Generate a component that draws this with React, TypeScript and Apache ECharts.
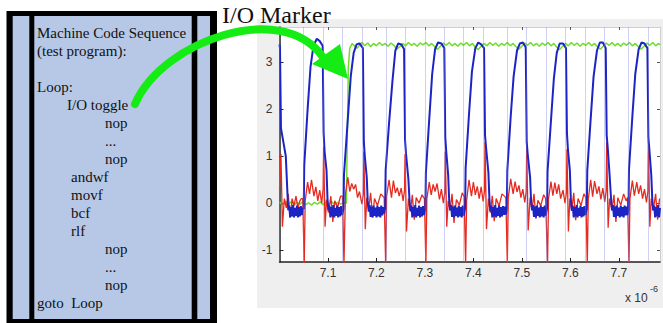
import React, { useEffect, useRef } from "react";
import * as echarts from "echarts";

// ---------- text content ----------
const codeLines: string[] = [
  "Machine Code Sequence",
  "(test program):",
  "",
  "Loop:",
  "I/O toggle",
  "nop",
  "...",
  "nop",
  "andwf",
  "movf",
  "bcf",
  "rlf",
  "nop",
  "...",
  "nop",
  "goto  Loop",
];
const markerTitle = "I/O Marker";
const xScaleBase = "x 10";
const xScaleExp = "-6";

// ---------- axes ----------
const xMin = 7.0;
const xMax = 7.785;
const yMin = -1.25;
const yMax = 3.75;
const xTickValues = [7.1, 7.2, 7.3, 7.4, 7.5, 7.6, 7.7];
const yTickValues = [-1, 0, 1, 2, 3];

// ---------- traces (time in 1e-6 s, volts) ----------
const blueTrace: [number, number][] = [
  [7.000, 3.38], [7.001, 3.3], [7.003, 1.6], [7.008, 1.3], [7.013, 1.0], [7.016, 0.3], [7.018, -0.15],
  [7.020, -0.05], [7.022, -0.3], [7.024, -0.08], [7.026, -0.28], [7.028, -0.04], [7.030, -0.3], [7.032, -0.1],
  [7.034, -0.27], [7.036, -0.05], [7.038, -0.3], [7.040, -0.08], [7.042, -0.28], [7.044, -0.06], [7.046, -0.25], [7.048, -0.1],
  // pulse 1
  [7.050, -0.12], [7.051, 0.8], [7.058, 2.0], [7.064, 2.9], [7.070, 3.35], [7.077, 3.5], [7.083, 3.45], [7.089, 3.35],
  [7.091, 1.5], [7.093, 1.1], [7.097, 0.7], [7.099, 0.1], [7.101, -0.15],
  [7.103, -0.05], [7.105, -0.3], [7.107, -0.08], [7.109, -0.28], [7.111, -0.04], [7.113, -0.3], [7.115, -0.1],
  [7.117, -0.27], [7.119, -0.05], [7.121, -0.3], [7.123, -0.08], [7.125, -0.28], [7.127, -0.06], [7.129, -0.25],
  // pulse 2
  [7.132, -0.12], [7.133, 0.6], [7.141, 1.8], [7.147, 2.7], [7.153, 3.2], [7.159, 3.38], [7.165, 3.4], [7.172, 3.3],
  [7.174, 1.3], [7.176, 1.0], [7.180, 0.55], [7.182, 0.05], [7.184, -0.18],
  [7.186, -0.04], [7.188, -0.29], [7.190, -0.07], [7.192, -0.3], [7.194, -0.05], [7.196, -0.27], [7.198, -0.09],
  [7.200, -0.3], [7.202, -0.05], [7.204, -0.28], [7.206, -0.08], [7.208, -0.3], [7.210, -0.05], [7.212, -0.26],
  [7.214, -0.08], [7.216, -0.22],
  // pulse 3
  [7.218, -0.1], [7.219, 0.7], [7.226, 1.7], [7.233, 2.6], [7.239, 3.25], [7.245, 3.4], [7.251, 3.38], [7.257, 3.28],
  [7.259, 1.35], [7.261, 1.05], [7.266, 0.5], [7.268, 0.1], [7.270, -0.16],
  [7.272, -0.05], [7.274, -0.3], [7.276, -0.08], [7.278, -0.28], [7.280, -0.04], [7.282, -0.3], [7.284, -0.1],
  [7.286, -0.27], [7.288, -0.05], [7.290, -0.3], [7.292, -0.08], [7.294, -0.28], [7.296, -0.06], [7.298, -0.25],
  // pulse 4
  [7.301, -0.12], [7.302, 0.65], [7.309, 1.8], [7.315, 2.75], [7.321, 3.28], [7.327, 3.42], [7.334, 3.4], [7.340, 3.3],
  [7.342, 1.4], [7.344, 1.1], [7.348, 0.6], [7.350, 0.08], [7.352, -0.15],
  [7.354, -0.04], [7.356, -0.29], [7.358, -0.07], [7.360, -0.3], [7.362, -0.05], [7.364, -0.27], [7.366, -0.09],
  [7.368, -0.3], [7.370, -0.05], [7.372, -0.28], [7.374, -0.08], [7.376, -0.3], [7.378, -0.05], [7.380, -0.26],
  // pulse 5
  [7.383, -0.1], [7.384, 0.75], [7.391, 1.9], [7.397, 2.8], [7.404, 3.3], [7.410, 3.42], [7.416, 3.38], [7.422, 3.3],
  [7.424, 1.45], [7.426, 1.2], [7.431, 0.65], [7.433, 0.1], [7.435, -0.17],
  [7.437, -0.05], [7.439, -0.3], [7.441, -0.08], [7.443, -0.28], [7.445, -0.04], [7.447, -0.3], [7.449, -0.1],
  [7.451, -0.27], [7.453, -0.05], [7.455, -0.3], [7.457, -0.08], [7.459, -0.28], [7.461, -0.06], [7.463, -0.25],
  [7.465, -0.07], [7.467, -0.24],
  // pulse 6
  [7.469, -0.12], [7.470, 0.7], [7.477, 1.85], [7.483, 2.7], [7.490, 3.25], [7.496, 3.4], [7.502, 3.42], [7.508, 3.32],
  [7.510, 1.3], [7.512, 1.05], [7.517, 0.55], [7.519, 0.06], [7.521, -0.15],
  [7.523, -0.04], [7.525, -0.29], [7.527, -0.07], [7.529, -0.3], [7.531, -0.05], [7.533, -0.27], [7.535, -0.09],
  [7.537, -0.3], [7.539, -0.05], [7.541, -0.28], [7.543, -0.08], [7.545, -0.3], [7.547, -0.05], [7.549, -0.26],
  // pulse 7
  [7.552, -0.11], [7.553, 0.68], [7.560, 1.75], [7.566, 2.65], [7.572, 3.2], [7.578, 3.4], [7.585, 3.4], [7.591, 3.3],
  [7.593, 1.5], [7.595, 1.15], [7.599, 0.7], [7.601, 0.1], [7.603, -0.16],
  [7.605, -0.05], [7.607, -0.3], [7.609, -0.08], [7.611, -0.28], [7.613, -0.04], [7.615, -0.3], [7.617, -0.1],
  [7.619, -0.27], [7.621, -0.05], [7.623, -0.3], [7.625, -0.08], [7.627, -0.28], [7.629, -0.06], [7.631, -0.25],
  // pulse 8
  [7.634, -0.12], [7.635, 0.7], [7.642, 1.8], [7.648, 2.7], [7.655, 3.25], [7.661, 3.42], [7.667, 3.42], [7.673, 3.3],
  [7.675, 1.45], [7.677, 1.2], [7.681, 0.6], [7.684, 0.1], [7.686, -0.15],
  [7.688, -0.04], [7.690, -0.29], [7.692, -0.07], [7.694, -0.3], [7.696, -0.05], [7.698, -0.27], [7.700, -0.09],
  [7.702, -0.3], [7.704, -0.05], [7.706, -0.28], [7.708, -0.08], [7.710, -0.3], [7.712, -0.05], [7.714, -0.26],
  [7.716, -0.07], [7.718, -0.25],
  // pulse 9
  [7.720, -0.12], [7.721, 0.72], [7.728, 1.85], [7.734, 2.75], [7.741, 3.28], [7.747, 3.42], [7.753, 3.4], [7.759, 3.3],
  [7.761, 1.4], [7.763, 1.15], [7.767, 0.6], [7.769, 0.1], [7.771, -0.15],
  [7.773, -0.05], [7.775, -0.3], [7.777, -0.08], [7.779, -0.28], [7.781, -0.04], [7.783, -0.3], [7.785, -0.1],
];

const redTrace: [number, number][] = [
  [7.000, 0.3], [7.003, 1.05], [7.006, -0.5], [7.010, 0.1], [7.014, -0.1], [7.018, 0.2], [7.022, -0.3], [7.026, 0.1],
  [7.030, -0.05], [7.034, 0.15], [7.038, -0.1], [7.042, 0.05], [7.045, 0.1],
  // pulse 1
  [7.048, 0.1], [7.051, -1.3], [7.053, 0.05], [7.058, 0.45], [7.062, 0.2], [7.066, 0.5], [7.071, 0.15], [7.075, 0.35],
  [7.079, 0.05], [7.083, 0.28], [7.087, 0.0], [7.090, 0.3], [7.091, 1.2], [7.094, -0.5], [7.097, 0.08], [7.101, -0.2],
  [7.106, 0.15], [7.110, -0.4], [7.114, 0.05], [7.120, -0.08], [7.126, 0.15],
  // pulse 2
  [7.130, 0.15], [7.133, -1.3], [7.136, 0.2], [7.141, 0.55], [7.145, 0.25], [7.149, 0.42], [7.153, 0.3], [7.157, 0.4],
  [7.161, 0.12], [7.165, 0.25], [7.170, -0.02], [7.173, 0.2], [7.174, 1.1], [7.177, -0.55], [7.180, 0.12], [7.184, -0.12],
  [7.188, 0.22], [7.192, -0.3], [7.196, 0.1], [7.202, -0.05], [7.209, 0.2],
  // pulse 3
  [7.216, 0.12], [7.219, -1.3], [7.221, 0.15], [7.226, 0.5], [7.231, 0.12], [7.235, 0.48], [7.239, 0.22], [7.243, 0.33],
  [7.247, 0.15], [7.251, 0.32], [7.255, 0.05], [7.258, 0.28], [7.259, 1.05], [7.262, -0.6], [7.266, 0.1], [7.270, -0.18],
  [7.274, 0.18], [7.278, -0.35], [7.282, 0.12], [7.288, 0.0], [7.294, 0.18],
  // pulse 4
  [7.299, 0.1], [7.302, -1.3], [7.304, 0.1], [7.309, 0.45], [7.313, 0.18], [7.317, 0.4], [7.321, 0.25], [7.325, 0.42],
  [7.330, 0.08], [7.334, 0.3], [7.338, 0.0], [7.341, 0.22], [7.342, 1.1], [7.345, -0.5], [7.348, 0.05], [7.352, -0.15],
  [7.356, 0.2], [7.360, -0.42], [7.365, 0.08], [7.371, -0.04], [7.377, 0.22],
  // pulse 5
  [7.381, 0.14], [7.384, -1.3], [7.386, 0.05], [7.391, 0.5], [7.396, 0.15], [7.400, 0.45], [7.404, 0.18], [7.408, 0.36],
  [7.412, 0.1], [7.416, 0.35], [7.420, 0.04], [7.423, 0.26], [7.424, 1.3], [7.427, -0.55], [7.431, 0.1], [7.435, -0.2],
  [7.439, 0.16], [7.443, -0.38], [7.447, 0.1], [7.453, -0.06], [7.459, 0.2],
  // pulse 6
  [7.467, 0.12], [7.470, -1.3], [7.472, 0.12], [7.477, 0.52], [7.482, 0.2], [7.486, 0.46], [7.490, 0.24], [7.494, 0.38],
  [7.498, 0.12], [7.502, 0.3], [7.506, 0.02], [7.509, 0.25], [7.510, 1.2], [7.513, -0.58], [7.517, 0.12], [7.521, -0.14],
  [7.525, 0.2], [7.529, -0.33], [7.533, 0.06], [7.539, -0.05], [7.545, 0.18],
  // pulse 7
  [7.549, 0.1], [7.553, -1.3], [7.555, 0.1], [7.560, 0.46], [7.564, 0.16], [7.568, 0.44], [7.572, 0.2], [7.576, 0.4],
  [7.580, 0.1], [7.585, 0.28], [7.589, 0.0], [7.592, 0.24], [7.593, 1.15], [7.596, -0.6], [7.599, 0.1], [7.603, -0.16],
  [7.607, 0.22], [7.611, -0.36], [7.616, 0.1], [7.622, -0.05], [7.628, 0.2],
  // pulse 8
  [7.632, 0.12], [7.635, -1.3], [7.637, 0.08], [7.642, 0.5], [7.646, 0.14], [7.650, 0.47], [7.655, 0.2], [7.659, 0.36],
  [7.663, 0.08], [7.667, 0.32], [7.671, 0.03], [7.674, 0.27], [7.675, 1.3], [7.678, -0.52], [7.681, 0.1], [7.686, -0.15],
  [7.690, 0.18], [7.694, -0.4], [7.698, 0.12], [7.704, -0.04], [7.710, 0.2], [7.715, 0.05],
  // pulse 9
  [7.718, 0.12], [7.721, -1.3], [7.723, 0.1], [7.728, 0.48], [7.732, 0.16], [7.737, 0.45], [7.741, 0.2], [7.745, 0.38],
  [7.749, 0.1], [7.753, 0.3], [7.757, 0.02], [7.760, 0.25], [7.761, 1.35], [7.764, -0.5], [7.767, 0.1], [7.771, -0.15],
  [7.776, 0.2], [7.780, -0.35], [7.784, 0.1],
];

const greenTrace: [number, number][] = [
  [7.000, 0.02], [7.006, -0.03], [7.012, 0.04], [7.018, -0.02], [7.024, 0.03], [7.030, -0.04], [7.036, 0.02],
  [7.042, -0.02], [7.048, 0.03], [7.054, -0.03], [7.060, 0.01], [7.066, -0.04], [7.072, 0.02], [7.078, -0.02],
  [7.084, 0.03], [7.090, -0.03], [7.096, 0.02], [7.102, -0.02], [7.108, 0.03], [7.114, -0.03], [7.120, 0.02],
  [7.126, -0.02], [7.132, 0.02], [7.138, 0.0], [7.139, 0.0], [7.140, 1.5], [7.142, 2.9], [7.145, 3.3],
  [7.150, 3.40], [7.155, 3.34], [7.160, 3.30], [7.165, 3.36], [7.170, 3.42], [7.176, 3.35], [7.182, 3.41],
  [7.188, 3.33], [7.194, 3.40], [7.200, 3.35], [7.206, 3.42], [7.212, 3.36], [7.218, 3.40], [7.224, 3.34],
  [7.230, 3.41], [7.236, 3.36], [7.242, 3.28], [7.248, 3.33], [7.254, 3.40], [7.260, 3.35], [7.266, 3.42],
  [7.272, 3.36], [7.278, 3.40], [7.284, 3.34], [7.290, 3.41], [7.296, 3.37], [7.302, 3.42], [7.308, 3.35],
  [7.314, 3.40], [7.320, 3.33], [7.326, 3.27], [7.332, 3.34], [7.338, 3.41], [7.344, 3.36], [7.350, 3.42],
  [7.356, 3.35], [7.362, 3.40], [7.368, 3.34], [7.374, 3.41], [7.380, 3.36], [7.386, 3.42], [7.392, 3.35],
  [7.398, 3.40], [7.404, 3.32], [7.410, 3.27], [7.416, 3.34], [7.422, 3.40], [7.428, 3.35], [7.434, 3.42],
  [7.440, 3.36], [7.446, 3.41], [7.452, 3.34], [7.458, 3.40], [7.464, 3.36], [7.470, 3.42], [7.476, 3.35],
  [7.482, 3.40], [7.488, 3.33], [7.494, 3.28], [7.500, 3.34], [7.506, 3.41], [7.512, 3.36], [7.518, 3.42],
  [7.524, 3.35], [7.530, 3.40], [7.536, 3.34], [7.542, 3.41], [7.548, 3.36], [7.554, 3.42], [7.560, 3.35],
  [7.566, 3.40], [7.572, 3.32], [7.578, 3.27], [7.584, 3.34], [7.590, 3.40], [7.596, 3.35], [7.602, 3.42],
  [7.608, 3.36], [7.614, 3.41], [7.620, 3.34], [7.626, 3.40], [7.632, 3.36], [7.638, 3.42], [7.644, 3.35],
  [7.650, 3.40], [7.656, 3.33], [7.662, 3.28], [7.668, 3.34], [7.674, 3.41], [7.680, 3.36], [7.686, 3.42],
  [7.692, 3.35], [7.698, 3.40], [7.704, 3.34], [7.710, 3.41], [7.716, 3.36], [7.722, 3.42], [7.728, 3.35],
  [7.734, 3.40], [7.740, 3.33], [7.746, 3.28], [7.752, 3.34], [7.758, 3.41], [7.764, 3.36], [7.770, 3.42],
  [7.776, 3.35], [7.782, 3.40], [7.785, 3.37],
];

// fast transitions that show up as faint full-height traces
const edgeTimes = [
  7.003, 7.050, 7.091, 7.132, 7.174, 7.218, 7.259, 7.301, 7.342, 7.383,
  7.424, 7.469, 7.510, 7.552, 7.593, 7.634, 7.675, 7.720, 7.761,
];

export default function App() {
  const ref = useRef<HTMLDivElement>(null);

  useEffect(() => {
    if (!ref.current) return;
    const chart = echarts.init(ref.current, null, { renderer: "svg" });

    const serif = '"Liberation Serif", "Times New Roman", serif';
    const sans = '"Liberation Sans", Arial, sans-serif';
    const green = "#14ec14";
    const panelBlue = "#b6c8e6";

    // indentation of code listing lines (layout only)
    const indents = [37, 37, 0, 37, 67, 105, 105, 105, 71, 71, 71, 71, 105, 105, 105, 37];
    const codeTexts: any[] = [];
    codeLines.forEach((t, i) => {
      if (!t) return;
      codeTexts.push({
        type: "text",
        z: 5,
        style: {
          text: t,
          x: indents[i],
          y: 33 + i * 18,
          fill: "#111",
          fontFamily: serif,
          fontSize: 15,
          textVerticalAlign: "middle",
        },
      });
    });

    const graphic: any[] = [
      { type: "rect", z: -10, silent: true, shape: { x: 257, y: 19, width: 406, height: 289 }, style: { fill: "#efefef" } },
      { type: "rect", z: 1, shape: { x: 6.5, y: 11, width: 210.5, height: 312 }, style: { fill: "#000" } },
      { type: "rect", z: 2, shape: { x: 12.7, y: 16, width: 16.6, height: 303 }, style: { fill: panelBlue } },
      { type: "rect", z: 2, shape: { x: 34.3, y: 16, width: 157.4, height: 303 }, style: { fill: panelBlue } },
      { type: "rect", z: 2, shape: { x: 197.3, y: 16, width: 12.7, height: 303 }, style: { fill: panelBlue } },
      ...codeTexts,
      {
        type: "text",
        z: 50,
        style: { text: markerTitle, x: 222, y: 14.5, fill: "#111", fontFamily: serif, fontSize: 24, textVerticalAlign: "middle" },
      },
      {
        type: "bezierCurve",
        z: 100,
        shape: { x1: 135, y1: 104, cpx1: 163, cpy1: 40, cpx2: 282, cpy2: 0, x2: 322, y2: 56 },
        style: { stroke: green, lineWidth: 8, fill: null, lineCap: "round" },
      },
      {
        type: "polygon",
        z: 100,
        shape: { points: [[312, 64], [340, 44], [348, 79]] },
        style: { fill: green },
      },
      { type: "text", z: 50, style: { text: xScaleBase, x: 625, y: 298, fill: "#333", fontFamily: sans, fontSize: 12, textVerticalAlign: "middle" } },
      { type: "text", z: 50, style: { text: xScaleExp, x: 650, y: 289, fill: "#333", fontFamily: sans, fontSize: 9, textVerticalAlign: "middle" } },
    ];

    const option: any = {
      animation: false,
      backgroundColor: "#ffffff",
      grid: {
        left: 279.5,
        top: 27,
        right: 3,
        bottom: 61,
        show: true,
        backgroundColor: "#ffffff",
        borderWidth: 0,
      },
      xAxis: [
        {
          type: "value",
          min: xMin,
          max: xMax,
          position: "bottom",
          axisLine: { show: true, onZero: false, lineStyle: { color: "#222", width: 1.5 } },
          axisTick: { show: true, inside: true, length: 4, customValues: xTickValues, lineStyle: { color: "#222" } },
          axisLabel: {
            show: true,
            customValues: xTickValues,
            formatter: (v: number) => v.toFixed(1),
            color: "#333",
            fontSize: 12,
            fontFamily: sans,
            margin: 5,
          },
          splitLine: { show: false },
        },
        {
          type: "value",
          min: xMin,
          max: xMax,
          position: "top",
          axisLine: { show: true, onZero: false, lineStyle: { color: "#cfcfcf", width: 1 } },
          axisTick: { show: true, inside: true, length: 3, customValues: xTickValues, lineStyle: { color: "#555" } },
          axisLabel: { show: false },
          splitLine: { show: false },
        },
      ],
      yAxis: [
        {
          type: "value",
          min: yMin,
          max: yMax,
          position: "left",
          axisLine: { show: true, onZero: false, lineStyle: { color: "#222", width: 1.5 } },
          axisTick: { show: true, inside: true, length: 4, customValues: yTickValues, lineStyle: { color: "#222" } },
          axisLabel: {
            show: true,
            customValues: yTickValues,
            color: "#333",
            fontSize: 12,
            fontFamily: sans,
            margin: 7,
          },
          splitLine: { show: false },
        },
        {
          type: "value",
          min: yMin,
          max: yMax,
          position: "right",
          axisLine: { show: true, onZero: false, lineStyle: { color: "#cfcfcf", width: 1 } },
          axisTick: { show: true, inside: true, length: 3, customValues: yTickValues, lineStyle: { color: "#555" } },
          axisLabel: { show: false },
          splitLine: { show: false },
        },
      ],
      series: [
        {
          type: "line",
          name: "I/O marker",
          data: greenTrace,
          showSymbol: false,
          symbol: "none",
          lineStyle: { color: "#6ede2a", width: 1.5 },
          z: 2,
          markLine: {
            silent: true,
            symbol: ["none", "none"],
            label: { show: false },
            lineStyle: { color: "rgba(120,120,225,0.35)", width: 1, type: "solid" },
            data: edgeTimes.map((t) => ({ xAxis: t })),
          },
        },
        {
          type: "line",
          name: "current",
          data: redTrace,
          showSymbol: false,
          symbol: "none",
          lineStyle: { color: "#e52a1f", width: 1.3 },
          z: 3,
        },
        {
          type: "line",
          name: "voltage",
          data: blueTrace,
          showSymbol: false,
          symbol: "none",
          lineStyle: { color: "#1c24c4", width: 2 },
          z: 4,
        },
      ],
      graphic,
    };

    chart.setOption(option);
    return () => chart.dispose();
  }, []);

  return (
    <div
      ref={ref}
      style={{ position: "absolute", left: 0, top: 0, width: 663, height: 323 }}
    />
  );
}
